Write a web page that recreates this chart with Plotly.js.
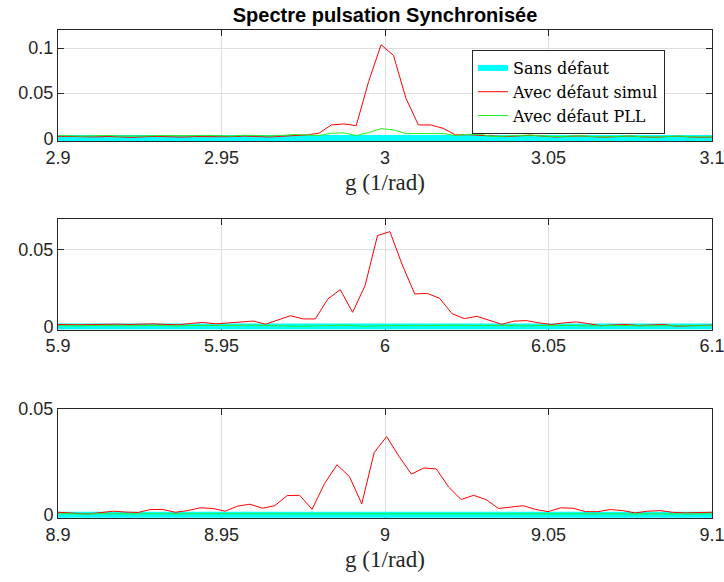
<!DOCTYPE html>
<html>
<head>
<meta charset="utf-8">
<script src="https://cdn.plot.ly/plotly-3.0.1.min.js"></script>
<style>html,body{margin:0;padding:0;background:#fff;}#chart{width:724px;height:582px;}</style>
</head>
<body>
<div id="chart"></div>
<script>
// ---------- Data ----------
const seriesNames = ["Sans défaut", "Avec défaut simul", "Avec défaut PLL"];

// Subplot 1 : around g = 3
const g1 = [2.9000,2.9038,2.9076,2.9114,2.9152,2.9190,2.9228,2.9266,2.9304,2.9342,2.9380,2.9418,2.9456,2.9494,2.9532,2.9570,2.9608,2.9646,2.9684,2.9722,2.9760,2.9798,2.9836,2.9874,2.9912,2.9950,2.9988,3.0026,3.0064,3.0102,3.0140,3.0178,3.0216,3.0254,3.0292,3.0330,3.0368,3.0406,3.0444,3.0482,3.0520,3.0558,3.0596,3.0634,3.0672,3.0710,3.0748,3.0786,3.0824,3.0862,3.0900,3.0938,3.0976,3.1014];
const sans1 = [0.0003,0.0002,0.0002,0.0003,0.0002,0.0002,0.0003,0.0002,0.0002,0.0003,0.0002,0.0002,0.0003,0.0002,0.0002,0.0003,0.0002,0.0002,0.0003,0.0002,0.0002,0.0003,0.0002,0.0002,0.0003,0.0002,0.0003,0.0002,0.0002,0.0003,0.0002,0.0002,0.0003,0.0002,0.0002,0.0003,0.0002,0.0002,0.0003,0.0002,0.0002,0.0003,0.0002,0.0002,0.0003,0.0002,0.0002,0.0003,0.0002,0.0002,0.0003,0.0002,0.0002,0.0003];
const simul1 = [0.0022,0.0018,0.0012,0.0015,0.0020,0.0016,0.0010,0.0017,0.0021,0.0016,0.0013,0.0019,0.0022,0.0017,0.0018,0.0024,0.0020,0.0014,0.0022,0.0030,
                0.0037,0.0056,0.0148,0.0159,0.0140,0.0630,0.1037,0.0918,0.0444,0.0148,0.0148,0.0110,0.0037,
                0.0040,0.0032,0.0022,0.0018,0.0026,0.0034,0.0024,0.0014,0.0020,0.0026,0.0018,0.0012,0.0018,0.0024,0.0016,0.0011,0.0019,0.0022,0.0014,0.0010,0.0018];
const pll1 = [0.0030,0.0026,0.0024,0.0028,0.0031,0.0025,0.0022,0.0026,0.0030,0.0027,0.0024,0.0029,0.0033,0.0027,0.0025,0.0034,0.0031,0.0026,0.0032,0.0042,
              0.0037,0.0030,0.0056,0.0060,0.0030,0.0063,0.0107,0.0093,0.0052,0.0052,0.0060,0.0052,0.0030,0.0044,0.0044,0.0019,
              0.0024,0.0030,0.0036,0.0026,0.0018,0.0022,0.0028,0.0020,0.0015,0.0020,0.0025,0.0018,0.0014,0.0020,0.0024,0.0017,0.0014,0.0020];

// Subplot 2 : around g = 6
const g2 = [5.8989,5.9027,5.9065,5.9103,5.9141,5.9179,5.9217,5.9255,5.9293,5.9331,5.9369,5.9407,5.9445,5.9483,5.9521,5.9559,5.9597,5.9635,5.9673,5.9711,5.9749,5.9787,5.9825,5.9863,5.9901,5.9939,5.9977,6.0015,6.0053,6.0091,6.0129,6.0167,6.0205,6.0243,6.0281,6.0319,6.0357,6.0395,6.0433,6.0471,6.0509,6.0547,6.0585,6.0623,6.0661,6.0699,6.0737,6.0775,6.0813,6.0851,6.0889,6.0927,6.0965,6.1003];
const sans2 = [0.0002,0.0001,0.0001,0.0002,0.0001,0.0001,0.0002,0.0001,0.0001,0.0002,0.0001,0.0001,0.0002,0.0001,0.0001,0.0002,0.0001,0.0001,0.0002,0.0001,0.0001,0.0002,0.0001,0.0001,0.0002,0.0001,0.0002,0.0001,0.0001,0.0002,0.0001,0.0001,0.0002,0.0001,0.0001,0.0002,0.0001,0.0001,0.0002,0.0001,0.0001,0.0002,0.0001,0.0001,0.0002,0.0001,0.0001,0.0002,0.0001,0.0001,0.0002,0.0001,0.0001,0.0002];
const simul2 = [0.0015,0.0013,0.0013,0.0015,0.0017,0.0017,0.0015,0.0019,0.0019,0.0015,0.0013,0.0022,0.0028,0.0019,0.0024,0.0033,0.0037,0.0017,0.0045,
                0.0072,0.0051,0.0051,0.0180,0.0241,0.0094,0.0267,0.0592,0.0618,0.0401,0.0213,0.0217,0.0185,0.0085,0.0053,0.0068,0.0042,0.0016,0.0037,
                0.0040,0.0025,0.0015,0.0025,0.0032,0.0020,0.0007,0.0012,0.0015,0.0008,0.0013,0.0015,0.0004,0.0007,0.0009,0.0011];
const pll2 = [0.0008,0.0006,0.0005,0.0008,0.0009,0.0007,0.0006,0.0008,0.0009,0.0007,0.0005,0.0008,0.0010,0.0009,0.0007,0.0009,0.0011,0.0008,0.0006,0.0004,0.0003,0.0006,0.0009,0.0010,0.0008,0.0003,0.0006,0.0009,0.0008,0.0007,0.0009,0.0008,0.0010,0.0009,0.0007,0.0008,0.0009,0.0007,0.0006,0.0008,0.0009,0.0007,0.0008,0.0006,0.0007,0.0009,0.0008,0.0006,0.0007,0.0008,0.0006,0.0007,0.0008,0.0007];

// Subplot 3 : around g = 9
const g3 = [8.8979,8.9017,8.9055,8.9093,8.9131,8.9169,8.9207,8.9245,8.9283,8.9321,8.9359,8.9397,8.9435,8.9473,8.9511,8.9549,8.9587,8.9625,8.9663,8.9701,8.9739,8.9777,8.9815,8.9853,8.9891,8.9929,8.9967,9.0005,9.0043,9.0081,9.0119,9.0157,9.0195,9.0233,9.0271,9.0309,9.0347,9.0385,9.0423,9.0461,9.0499,9.0537,9.0575,9.0613,9.0651,9.0689,9.0727,9.0765,9.0803,9.0841,9.0879,9.0917,9.0955,9.0993,9.1031];
const sans3 = [0.0001,0.0001,0.0001,0.0001,0.0001,0.0001,0.0001,0.0001,0.0001,0.0001,0.0001,0.0001,0.0001,0.0001,0.0001,0.0001,0.0001,0.0001,0.0001,0.0001,0.0001,0.0001,0.0001,0.0001,0.0001,0.0001,0.0001,0.0001,0.0001,0.0001,0.0001,0.0001,0.0001,0.0001,0.0001,0.0001,0.0001,0.0001,0.0001,0.0001,0.0001,0.0001,0.0001,0.0001,0.0001,0.0001,0.0001,0.0001,0.0001,0.0001,0.0001,0.0001,0.0001,0.0001,0.0001];
const simul3 = [0.0015,0.0013,0.0008,0.0005,0.0012,0.0018,0.0014,0.0012,0.0026,0.0026,0.0013,0.0021,0.0034,0.0031,0.0018,0.0042,0.0051,0.0032,0.0044,
                0.0092,0.0093,0.0027,0.0148,0.0237,0.0182,0.0053,0.0295,0.0370,0.0276,0.0193,0.0222,0.0217,0.0131,0.0073,0.0093,0.0073,0.0031,
                0.0038,0.0044,0.0026,0.0016,0.0034,0.0032,0.0016,0.0016,0.0026,0.0021,0.0010,0.0018,0.0021,0.0013,0.0010,0.0013,0.0013,0.0013];
const pll3 = [0.0006,0.0005,0.0004,0.0005,0.0006,0.0005,0.0004,0.0005,0.0006,0.0006,0.0005,0.0005,0.0006,0.0005,0.0004,0.0006,0.0006,0.0005,0.0005,0.0006,0.0005,0.0004,0.0005,0.0006,0.0005,0.0004,0.0005,0.0006,0.0006,0.0005,0.0005,0.0006,0.0005,0.0004,0.0005,0.0006,0.0005,0.0005,0.0006,0.0005,0.0004,0.0005,0.0006,0.0005,0.0005,0.0006,0.0005,0.0004,0.0005,0.0006,0.0005,0.0005,0.0006,0.0005,0.0005];

const xTitle = "g (1/rad)";
const chartTitle = "Spectre pulsation Synchronisée";

// ---------- Styles ----------
const colors = ["#00ffff", "#ff0000", "#22ee22"];
const widths = [6, 1, 1];
const groups = [
  {x: g1, ys: [sans1, simul1, pll1], xa: "x",  ya: "y"},
  {x: g2, ys: [sans2, simul2, pll2], xa: "x2", ya: "y2"},
  {x: g3, ys: [sans3, simul3, pll3], xa: "x3", ya: "y3"}
];
const traces = [];
groups.forEach((gr, gi) => {
  gr.ys.forEach((ys, si) => {
    traces.push({
      type: "scatter", mode: "lines", x: gr.x, y: ys,
      name: seriesNames[si], xaxis: gr.xa, yaxis: gr.ya,
      line: {color: colors[si], width: widths[si]},
      showlegend: gi === 0, hoverinfo: "skip"
    });
  });
});

const axisCommon = {
  showline: true, linecolor: "#262626", linewidth: 1, mirror: "ticks",
  ticks: "inside", ticklen: 6, tickcolor: "#262626",
  showgrid: true, gridcolor: "#dfdfdf", zeroline: false,
  tickfont: {family: "Liberation Sans, Arial, sans-serif", size: 18, color: "#262626"},
  ticklabeloverflow: "allow",
  layer: "below traces"
};
function xax(range, domainAnchor, withTitle) {
  const a = Object.assign({}, axisCommon, {range: range, dtick: 0.05, anchor: domainAnchor});
  if (withTitle) a.title = {text: xTitle, font: {family: "Liberation Serif, Times New Roman, serif", size: 23, color: "#262626"}, standoff: 7};
  return a;
}
function yax(range, domain, anchor) {
  return Object.assign({}, axisCommon, {range: range, domain: domain, dtick: 0.05, anchor: anchor});
}

const layout = {
  width: 724, height: 582,
  margin: {l: 58, r: 12, t: 30, b: 64},
  paper_bgcolor: "#ffffff", plot_bgcolor: "#ffffff",
  title: {text: "<b>" + chartTitle + "</b>", x: 385/724, xanchor: "center", y: 1 - 15/582, yanchor: "middle",
          font: {family: "Liberation Sans, Arial, sans-serif", size: 20, color: "#000"}},
  xaxis:  xax([2.9, 3.1], "y", true),
  yaxis:  yax([-0.0033, 0.12], [0.772, 1], "x"),
  xaxis2: xax([5.9, 6.1], "y2", false),
  yaxis2: yax([-0.00195, 0.07], [0.3857, 0.6127], "x2"),
  xaxis3: xax([8.9, 9.1], "y3", true),
  yaxis3: yax([-0.0014, 0.05], [0, 0.2234], "x3"),
  legend: {x: 0.633, y: 0.959, xanchor: "left", yanchor: "top",
           bgcolor: "#ffffff", bordercolor: "#262626", borderwidth: 1,
           font: {family: "DejaVu Serif, Liberation Serif, serif", size: 16, color: "#000"},
           tracegroupgap: 0},
  showlegend: true
};

Plotly.newPlot("chart", traces, layout, {staticPlot: true, displayModeBar: false});
</script>
</body>
</html>
